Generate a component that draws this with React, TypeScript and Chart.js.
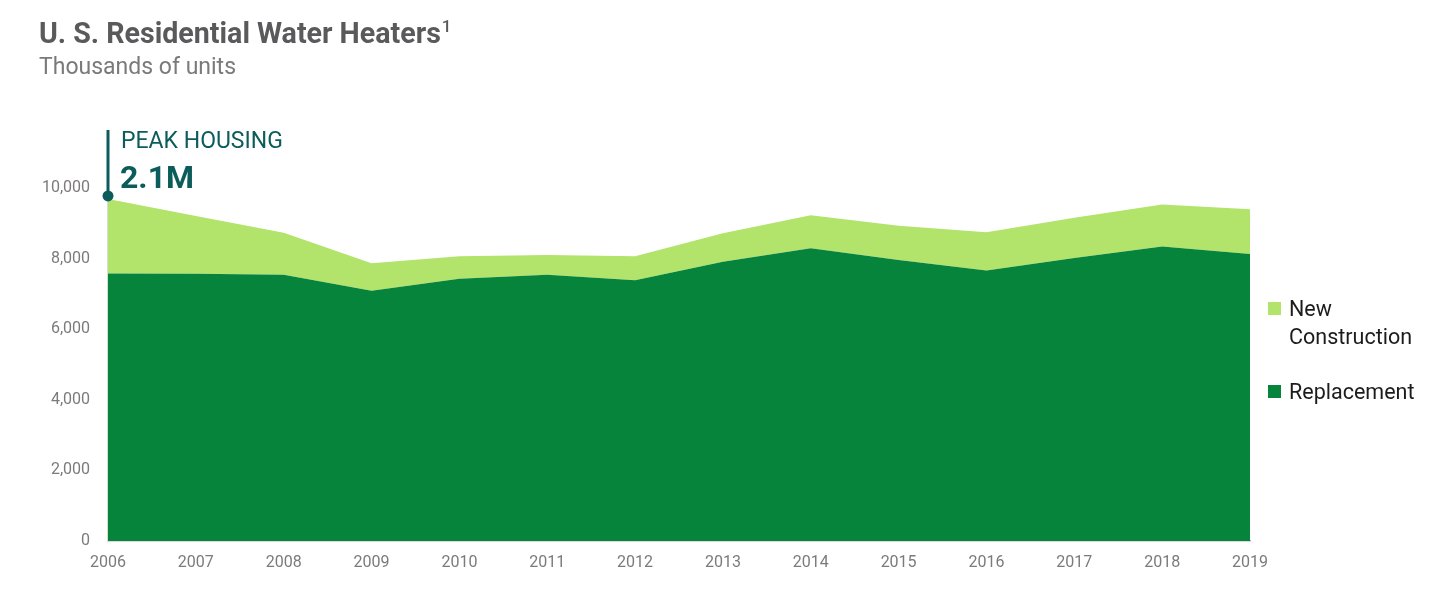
import { useEffect, useRef } from 'react';
import { Chart, registerables } from 'chart.js';

Chart.register(...registerables);

const years = ['2006', '2007', '2008', '2009', '2010', '2011', '2012', '2013', '2014', '2015', '2016', '2017', '2018', '2019'];
const replacement = [7580, 7570, 7540, 7090, 7430, 7540, 7390, 7910, 8290, 7960, 7660, 8020, 8340, 8130];
const newConstruction = [2110, 1640, 1190, 780, 640, 560, 680, 810, 940, 970, 1090, 1140, 1190, 1270];
const yTicks = [0, 2000, 4000, 6000, 8000, 10000];

const darkGreen = '#06843b';
const lightGreen = '#b2e36b';
const teal = '#0b5c5a';
const font = 'Roboto, "Noto Sans", sans-serif';

// vertical marker over the 2006 peak
const peakMarker = {
  id: 'peakMarker',
  afterDatasetsDraw(chart: Chart) {
    const ctx = chart.ctx;
    const x = chart.scales.x.getPixelForValue(0);
    const yDot = chart.scales.y.getPixelForValue(replacement[0] + newConstruction[0]) - 3;
    ctx.save();
    ctx.strokeStyle = teal;
    ctx.fillStyle = teal;
    ctx.lineWidth = 3;
    ctx.beginPath();
    ctx.moveTo(x, yDot);
    ctx.lineTo(x, 130);
    ctx.stroke();
    ctx.beginPath();
    ctx.arc(x, yDot, 5.5, 0, Math.PI * 2);
    ctx.fill();
    ctx.restore();
  },
};

export default function App() {
  const canvasRef = useRef<HTMLCanvasElement>(null);
  const chartRef = useRef<Chart | null>(null);

  useEffect(() => {
    if (!canvasRef.current) return;
    if (chartRef.current) chartRef.current.destroy();

    chartRef.current = new Chart(canvasRef.current, {
      type: 'line',
      data: {
        labels: years,
        datasets: [
          {
            label: 'Replacement',
            data: replacement,
            backgroundColor: darkGreen,
            borderWidth: 0,
            pointRadius: 0,
            fill: 'origin',
            tension: 0,
          },
          {
            label: 'New Construction',
            data: newConstruction,
            backgroundColor: lightGreen,
            borderWidth: 0,
            pointRadius: 0,
            fill: '-1',
            tension: 0,
          },
        ],
      },
      options: {
        responsive: true,
        maintainAspectRatio: false,
        animation: false,
        layout: { padding: { top: 188, right: 199, bottom: 0, left: 0 } },
        plugins: {
          legend: { display: false },
          tooltip: { enabled: false },
        },
        scales: {
          x: {
            offset: false,
            grid: { display: false },
            border: { display: true, color: '#b5b5b5', width: 1.5 },
            ticks: {
              color: '#7d7a7a',
              font: { family: font, size: 16 },
              padding: 4,
              maxRotation: 0,
              autoSkip: false,
            },
            afterFit: (scale: any) => {
              scale.height = 65;
            },
          },
          y: {
            stacked: true,
            min: 0,
            max: 10000,
            grid: { display: false },
            border: { display: true, color: '#d3e2cc', width: 1.5 },
            afterBuildTicks: (scale: any) => {
              scale.ticks = yTicks.map((v) => ({ value: v }));
            },
            ticks: {
              color: '#7d7a7a',
              font: { family: font, size: 16 },
              padding: 10,
              callback: (v: any) => Number(v).toLocaleString('en-US'),
            },
            afterFit: (scale: any) => {
              scale.width = 108;
            },
          },
        },
      },
      plugins: [peakMarker],
    });

    return () => {
      if (chartRef.current) {
        chartRef.current.destroy();
        chartRef.current = null;
      }
    };
  }, []);

  const abs = (left: number, top: number): React.CSSProperties => ({
    position: 'absolute',
    left,
    top,
    lineHeight: 1,
    whiteSpace: 'nowrap',
    fontFamily: font,
  });

  return (
    <div style={{ position: 'absolute', left: 0, top: 0, width: 1449, height: 606, background: '#fff' }}>
      <canvas ref={canvasRef} />
      <div style={{ ...abs(39, 19), fontSize: 28.6, fontWeight: 700, color: '#5a5a5c' }}>
        U. S. Residential Water Heaters<sup style={{ fontSize: 17, fontWeight: 500, verticalAlign: 'top', position: 'relative', top: -1, marginLeft: 1 }}>1</sup>
      </div>
      <div style={{ ...abs(39, 55), fontSize: 23, color: '#7a7a7a' }}>Thousands of units</div>

      <div style={{ ...abs(121, 129), fontSize: 23, color: teal }}>PEAK HOUSING</div>
      <div style={{ ...abs(120, 161), fontSize: 32, fontWeight: 700, color: teal }}>2.1M</div>

      <div style={{ position: 'absolute', left: 1268, top: 302, width: 13, height: 13, background: lightGreen }} />
      <div style={{ ...abs(1289, 295), fontSize: 21.5, color: '#1c1c1c', lineHeight: '27.6px' }}>
        New
        <br />
        Construction
      </div>
      <div style={{ position: 'absolute', left: 1268, top: 385, width: 13, height: 13, background: darkGreen }} />
      <div style={{ ...abs(1289, 381), fontSize: 21.5, color: '#1c1c1c' }}>Replacement</div>
    </div>
  );
}
